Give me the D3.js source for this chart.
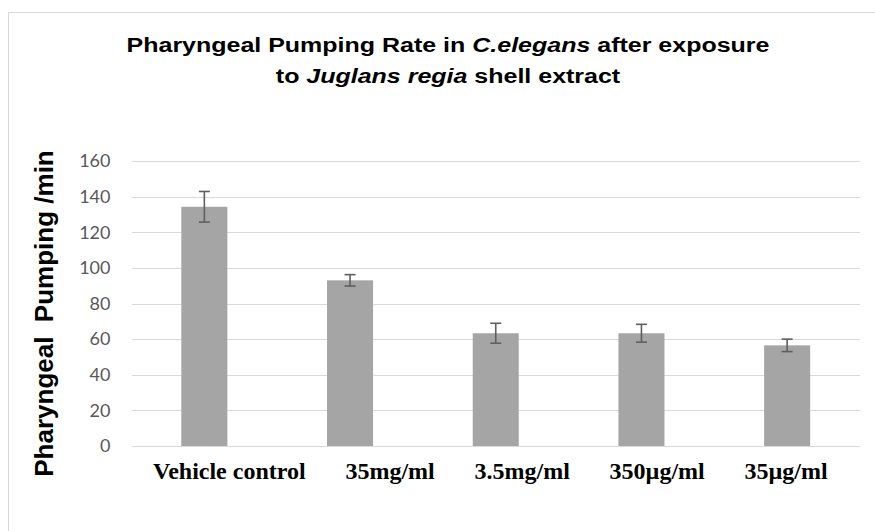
<!DOCTYPE html>
<html>
<head>
<meta charset="utf-8">
<script src="https://cdn.jsdelivr.net/npm/d3@7"></script>
<style>
  html, body { margin: 0; padding: 0; background: #fff; }
  svg { display: block; }
</style>
</head>
<body>
<svg id="chart" width="875" height="531"></svg>
<script>
// ---- data ----
const categories = ["Vehicle control", "35mg/ml", "3.5mg/ml", "350µg/ml", "35µg/ml"];
const values = [134.3, 93.0, 63.3, 63.3, 56.5];
const errors = [8.6, 3.2, 5.6, 5.0, 3.5];
const yTicks = [0, 20, 40, 60, 80, 100, 120, 140, 160];

// ---- layout ----
const W = 875, H = 531;
const plot = { left: 131.5, right: 860, top: 161, bottom: 446 };

const svg = d3.select("#chart");

// chart border
svg.append("rect")
  .attr("x", 8.5).attr("y", 12.5)
  .attr("width", 1000).attr("height", 1000)
  .attr("fill", "none").attr("stroke", "#d9d9d9").attr("stroke-width", 1);

const x = d3.scaleBand()
  .domain(categories)
  .range([plot.left, plot.right])
  .paddingInner(0.684)
  .paddingOuter(0.342);

const y = d3.scaleLinear()
  .domain([0, 160])
  .range([plot.bottom, plot.top]);

// gridlines + tick labels via axis
const yAxis = d3.axisLeft(y)
  .tickValues(yTicks)
  .tickSize(-(plot.right - plot.left))
  .tickPadding(21)
  .tickFormat(d3.format("d"));

const gy = svg.append("g")
  .attr("transform", `translate(${plot.left},0)`)
  .call(yAxis);
gy.select(".domain").remove();
gy.selectAll(".tick line")
  .attr("stroke", "#d9d9d9").attr("stroke-width", 1)
  .attr("shape-rendering", "crispEdges");
gy.selectAll(".tick text")
  .attr("fill", "#595959")
  .style("font-family", "Lato, 'Open Sans', sans-serif")
  .style("font-size", "18px");

// bars
svg.append("g").selectAll("rect")
  .data(categories)
  .join("rect")
  .attr("x", d => x(d))
  .attr("width", x.bandwidth())
  .attr("y", (d, i) => y(values[i]))
  .attr("height", (d, i) => y(0) - y(values[i]))
  .attr("fill", "#a5a5a5");

// error bars
const eg = svg.append("g").attr("stroke", "#5f5f5f").attr("stroke-width", 1.6);
categories.forEach((c, i) => {
  const cx = x(c) + x.bandwidth() / 2;
  const y1 = y(values[i] + errors[i]);
  const y2 = y(values[i] - errors[i]);
  eg.append("line").attr("x1", cx).attr("x2", cx).attr("y1", y1).attr("y2", y2);
  eg.append("line").attr("x1", cx - 5.5).attr("x2", cx + 5.5).attr("y1", y1).attr("y2", y1);
  eg.append("line").attr("x1", cx - 5.5).attr("x2", cx + 5.5).attr("y1", y2).attr("y2", y2);
});

// x category labels, laid out as one typed line
const labelGap = 39.75;
let cursor = plot.left + 21.5;
categories.forEach(c => {
  const t = svg.append("text")
    .attr("x", cursor)
    .attr("y", 479)
    .style("font-family", "'Liberation Serif', 'Times New Roman', serif")
    .style("font-weight", "bold")
    .style("font-size", "24px")
    .attr("fill", "#000")
    .text(c);
  cursor += t.node().getComputedTextLength() + labelGap;
});

// y axis title
svg.append("text")
  .attr("transform", "translate(53,313.5) rotate(-90)")
  .attr("text-anchor", "middle")
  .style("font-family", "'Liberation Sans', Arial, sans-serif")
  .style("font-weight", "bold")
  .style("font-size", "26px")
  .style("white-space", "pre")
  .attr("fill", "#000")
  .text("Pharyngeal  Pumping /min");

// chart title (two lines, horizontally stretched)
const titleLines = [
  [["Pharyngeal Pumping Rate in ", false], ["C.elegans", true], [" after exposure", false]],
  [["to ", false], ["Juglans regia", true], [" shell extract", false]]
];
const titleBaselines = [52, 83];
titleLines.forEach((parts, li) => {
  const t = svg.append("text")
    .attr("transform", `translate(448,${titleBaselines[li]}) scale(1.25,1)`)
    .attr("text-anchor", "middle")
    .style("font-family", "'Liberation Sans', Arial, sans-serif")
    .style("font-weight", "bold")
    .style("font-size", "20px")
    .style("white-space", "pre")
    .attr("fill", "#000");
  parts.forEach(([s, it]) => {
    t.append("tspan").style("font-style", it ? "italic" : "normal").text(s);
  });
});
</script>
</body>
</html>
